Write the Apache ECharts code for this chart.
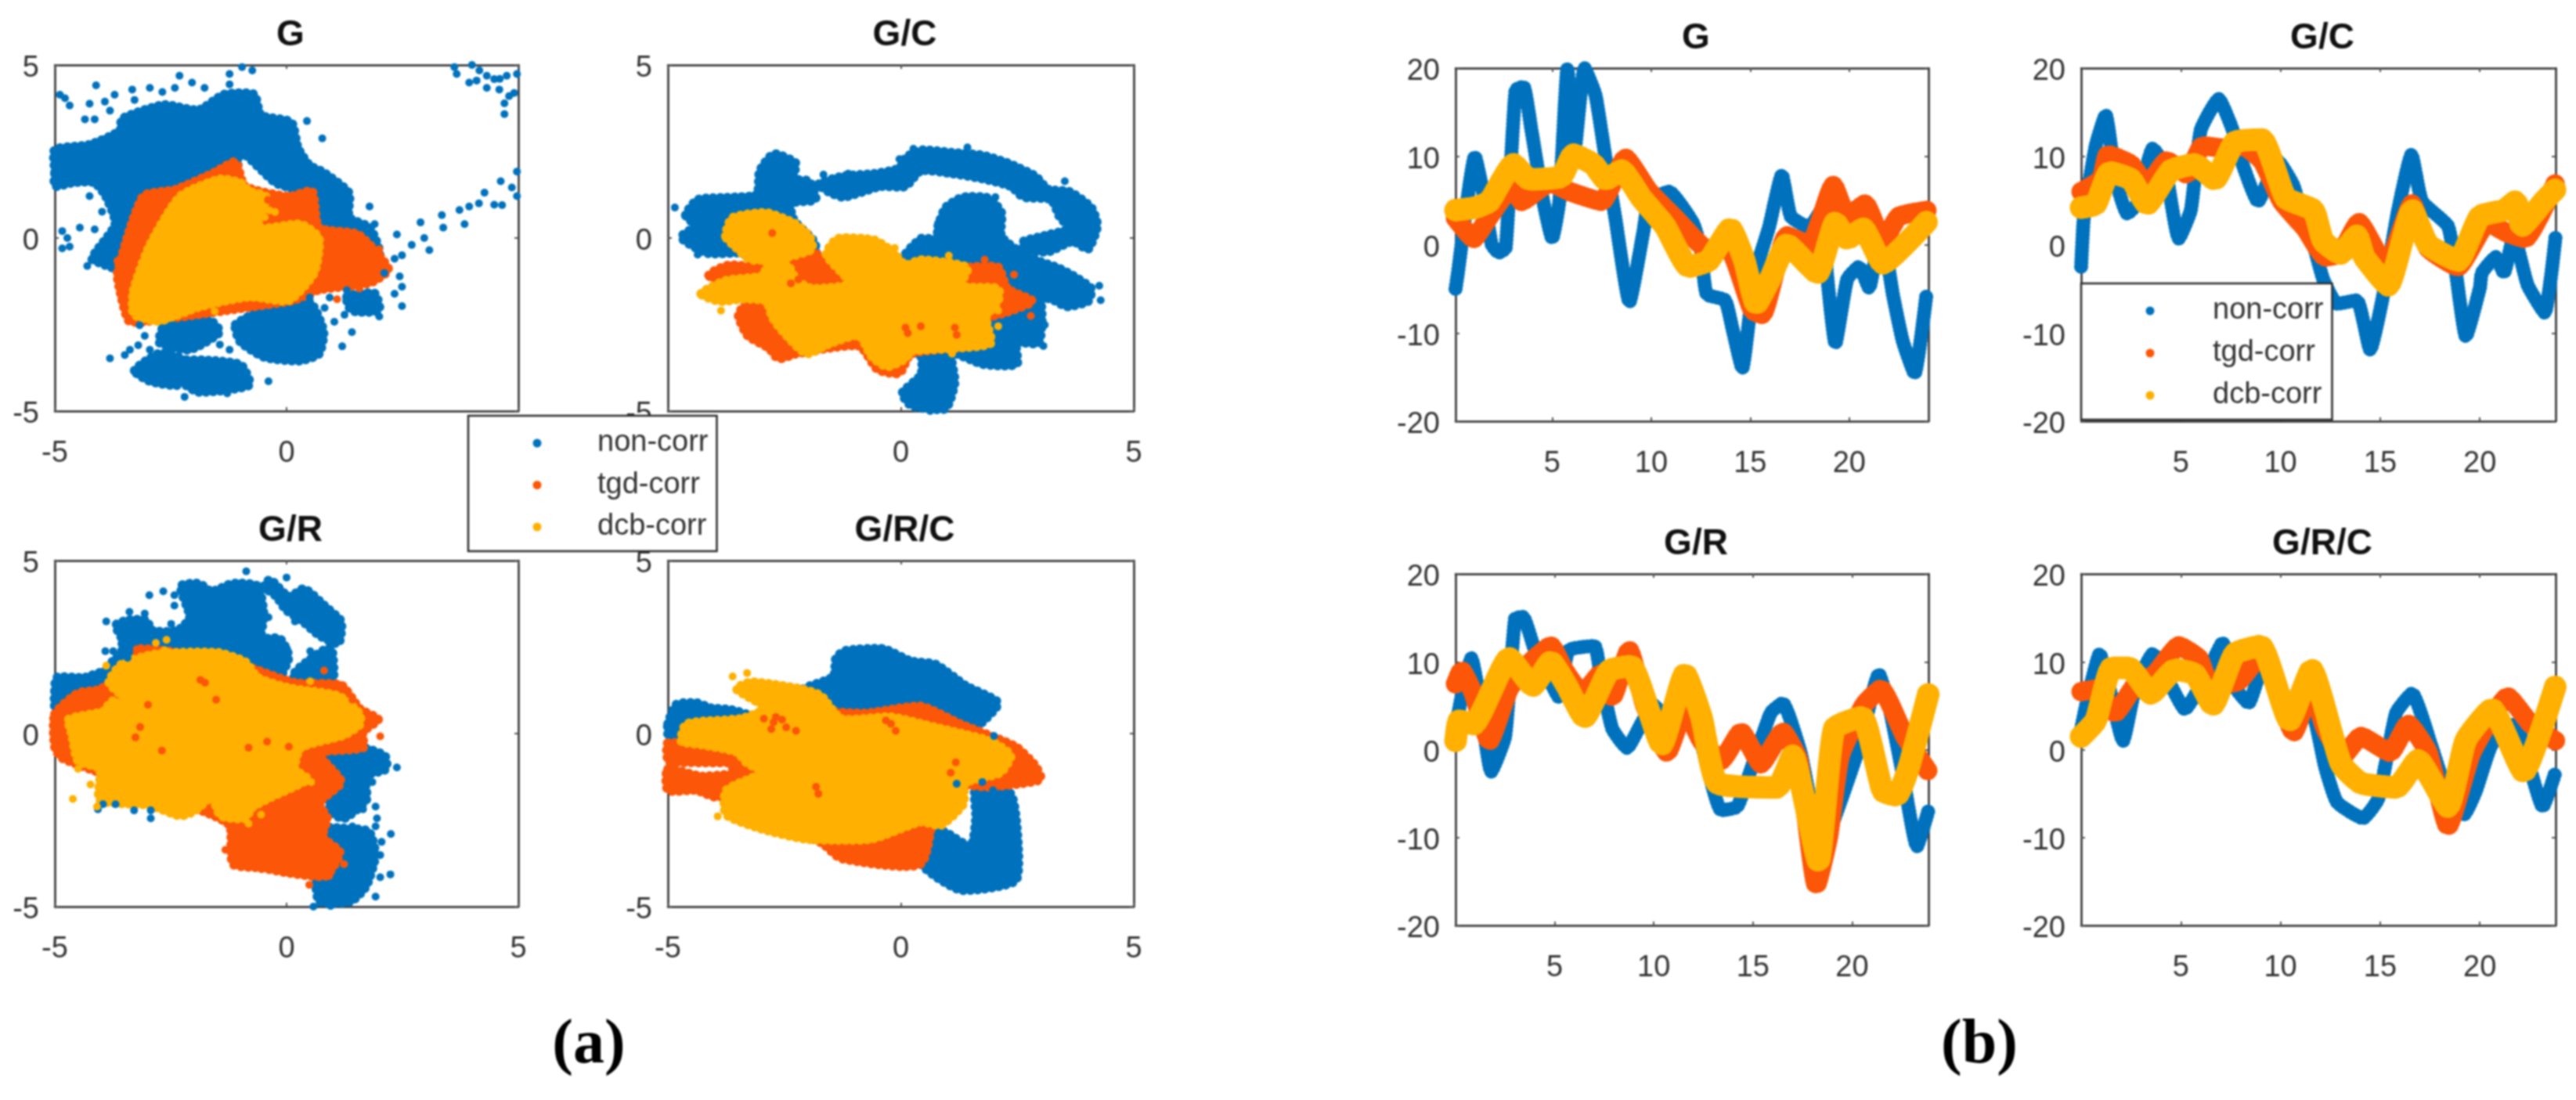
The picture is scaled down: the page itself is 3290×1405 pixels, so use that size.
<!DOCTYPE html>
<html><head><meta charset="utf-8">
<style>html,body{margin:0;padding:0;background:#fff}#c{width:3290px;height:1405px;filter:blur(0.8px)}</style>
<script src="https://cdn.jsdelivr.net/npm/echarts@6/dist/echarts.min.js"></script>
</head><body><div id="c"></div>
<script>
// ---------- names and ticks ----------
const panelNames = ['G','G/C','G/R','G/R/C'];
const seriesNames = ['non-corr','tgd-corr','dcb-corr'];
const seriesColors = ['#0072BD','#FC5608','#FFB000'];
const scatterTicks = [-5,0,5];
const hourTicks = [5,10,15,20];
const errorTicks = [-20,-10,0,10,20];

// ---------- (a) solid mass outlines [east, north] ----------
const gBlueMass = [
 [[-5,1.9],[-5,2.55],[-4.25,2.7],[-3.6,3.1],[-3.55,3.45],[-2.65,3.85],[-1.9,3.7],[-1.35,4.15],[-0.7,4.15],[-0.55,3.55],[0.1,3.35],[0.25,2.6],[0.5,2.1],[0.8,1.9],[1.35,1.3],[1.35,0.6],[1.8,0.3],[2.0,-0.5],[0.7,0.1],[0.6,0.8],[0.15,1.4],[-0.25,1.6],[-1,2.5],[-1.1,1.9],[-2.3,1.5],[-3.15,0.9],[-3.4,0],[-3.5,-1],[-3.85,-0.8],[-4.2,-0.6],[-3.7,0.4],[-3.9,1.2],[-4.15,1.6],[-4.6,1.6],[-5,1.5]],
 [[-1.1,-2.5],[-0.35,-2],[0.5,-1.85],[0.8,-2.7],[0.7,-3.35],[0.28,-3.55],[-0.47,-3.45],[-1,-3]],
 [[-2.3,-3.55],[-1,-3.65],[-0.8,-4.25],[-1.9,-4.45],[-2.3,-4.1]],
 [[-3.28,-3.83],[-2.74,-3.33],[-2.2,-3.53],[-2.31,-4.24],[-2.95,-4.14]],
 [[-2.63,-2.52],[-1.66,-2.37],[-1.44,-2.72],[-2.09,-3.23],[-2.74,-3.03]],
 [[1.3,-1.7],[1.9,-1.6],[2,-2.1],[1.4,-2.1]]
];
const gOrangeMass = [[[-3.65,-1],[-3.1,1.2],[-2.4,1.4],[-1.55,1.9],[-1.1,2.2],[-0.9,1.5],[0.05,1.2],[0.55,1.35],[0.7,0.3],[1.55,0.1],[2.2,-0.9],[1.8,-1.3],[0.7,-1.5],[0.15,-1.8],[-0.8,-2],[-2.95,-2.4],[-3.4,-2.4],[-3.6,-1.5]]];
const gYellowMass = [[[-3.3,-1.5],[-2.95,-0.2],[-2.3,1.2],[-1.45,1.7],[-1,1.6],[-0.8,1.35],[-0.45,1.2],[-0.6,0.3],[0.3,0.4],[0.7,0],[0.6,-1],[0.05,-1.8],[-0.8,-1.7],[-1.9,-2],[-2.75,-2.4],[-3.3,-2.2]]];
const gcBlueMass = [
 [[-4.62,0.66],[-4.36,1.11],[-3.56,1.18],[-3.09,1.26],[-3.03,1.94],[-2.73,2.43],[-2.26,2.17],[-2.29,1.71],[-1.96,1.64],[-1.83,1.11],[-2.36,1],[-2.29,0.51],[-1.86,-0.1],[-1.83,-0.55],[-2.96,-0.7],[-3.42,-0.44],[-4.16,-0.44],[-4.72,0.02],[-4.42,0.35]],
 [[0.8,0.35],[0.96,0.88],[1.33,1.18],[1.9,1.15],[2.16,0.73],[2.16,0.05],[2.56,-0.4],[3.03,-0.7],[3.36,-0.85],[3.69,-1.08],[4.09,-1.46],[4.02,-1.83],[3.56,-1.98],[3.22,-1.76],[3.03,-1.76],[3.03,-2.36],[2.96,-3.04],[2.49,-3.04],[2.49,-3.65],[1.76,-3.65],[1.1,-3.34],[1.16,-4.17],[0.96,-4.93],[0.23,-4.85],[0.03,-4.48],[0.43,-3.95],[0.43,-3.42],[0.1,-3.12],[0.03,-0.63],[0.43,-0.02],[0.76,-0.02]],
 [[-1.76,1.56],[-1.23,1.79],[-0.57,1.86],[-0.03,2.02],[0.1,2.32],[0.43,2.54],[1.1,2.47],[1.76,2.39],[2.29,2.17],[2.89,1.79],[3.16,1.41],[3.62,1.34],[4.09,0.88],[4.22,0.35],[4.02,-0.32],[3.69,-0.1],[3.16,-0.4],[2.63,-0.32],[2.63,-0.1],[3.03,0.05],[3.62,0.28],[3.42,0.58],[3.22,1.11],[2.63,1.18],[2.36,1.49],[1.76,1.71],[1.1,1.86],[0.43,1.94],[0.1,1.49],[-0.43,1.49],[-1.23,1.18],[-1.56,1.34]]
];
const gcOrangeMass = [[[-4.12,-1.08],[-3.69,-0.78],[-2.96,-0.85],[-2.16,-0.55],[-1.9,-0.4],[-1.63,-0.63],[-1.1,-1.23],[1.43,-0.85],[2.09,-0.85],[2.29,-1.46],[2.83,-1.83],[2.29,-2.14],[1.83,-2.36],[1.83,-3.04],[0.23,-3.34],[-0.03,-3.91],[-0.5,-3.8],[-0.9,-3.12],[-2.23,-3.34],[-2.63,-3.49],[-2.83,-3.19],[-3.29,-2.82],[-3.49,-2.21],[-3.29,-1.76]]];
const gcYellowMass = [
 [[-3.76,0.05],[-3.62,0.58],[-2.89,0.73],[-2.29,0.43],[-1.96,0.05],[-1.9,-0.32],[-2.43,-0.55],[-3.22,-0.63],[-3.56,-0.25]],
 [[-4.29,-1.61],[-3.76,-1.23],[-2.96,-1.08],[-2.83,-0.63],[-2.43,-0.78],[-2.23,-1.23],[-1.9,-1.46],[-1.1,-1.31],[-1.6,-0.48],[-1.36,-0.02],[-0.57,-0.06],[-0.17,-0.4],[0.1,-0.78],[0.43,-0.63],[1.43,-0.85],[1.3,-1.38],[2.09,-1.46],[2.09,-1.83],[1.83,-2.29],[1.93,-3.04],[1.1,-3.19],[0.23,-3.27],[0.1,-3.49],[-0.3,-3.72],[-0.63,-3.42],[-0.9,-2.82],[-1.5,-3.04],[-2.03,-3.34],[-2.56,-2.66],[-2.76,-2.29],[-2.89,-1.83],[-3.36,-1.76],[-3.89,-1.83]]
];
const grBlueMass = [
 [[-3.96,1.77],[-3.56,2.38],[-3.56,2.75],[-3.69,3.13],[-3.43,3.28],[-3.03,3.28],[-2.89,2.98],[-2.36,2.98],[-2.09,3.36],[-2.29,4.26],[-1.89,4.34],[-1.62,4.11],[-1.16,4.34],[-0.62,4.26],[-0.49,3.43],[-0.55,2.68],[-0.22,2.68],[-0.15,1.55],[-1.16,1.85],[-2.49,1.85],[-3.83,1.47]],
 [[-0.49,4.26],[-0.35,4.45],[0.05,3.96],[0.38,4.19],[0.85,3.66],[1.18,3.24],[1.12,2.6],[0.71,2.83],[0.31,3.28],[-0.02,3.58],[-0.22,3.96]],
 [[0.18,1.77],[0.51,2.15],[0.85,2.45],[0.98,2.45],[0.98,1.47],[0.18,1.32]],
 [[-5,1.24],[-4.96,1.62],[-4.36,1.62],[-3.96,1.77],[-3.76,1.32],[-4.5,1.17],[-4.76,1.09],[-5,0.79]],
 [[0.65,-0.41],[1.65,-0.41],[2.12,-0.64],[2.15,-1.02],[1.72,-1.24],[1.72,-1.92],[1.25,-2.45],[0.98,-2.3],[0.85,-1.55]],
 [[0.78,-2.75],[1.38,-2.75],[1.78,-2.83],[1.92,-3.51],[1.72,-4.41],[1.38,-4.86],[0.71,-4.86],[0.65,-4.26],[1.05,-3.66]],
 [[-0.55,2.68],[-0.15,2.75],[0.05,2.22],[-0.19,1.55],[-0.55,1.7]]
];
const grOrangeMass = [[[-5,0.57],[-4.5,1.17],[-4.03,1.28],[-3.29,2],[-3.16,2.45],[-1.16,2.07],[0.18,1.47],[1.18,1.4],[1.58,0.72],[1.98,0.41],[1.65,0.04],[1.65,-0.41],[0.71,-0.57],[1.18,-1.4],[0.71,-2],[0.88,-2.45],[0.78,-2.98],[1.15,-3.43],[0.85,-4.11],[0.05,-4.03],[-0.55,-3.88],[-1.16,-3.77],[-1.22,-2.68],[-1.56,-2.38],[-3.16,-1.55],[-4.83,-0.72],[-5,-0.41]]];
const grYellowMass = [[[-4.7,0.41],[-3.96,0.64],[-3.76,0.94],[-3.29,0.79],[-3.83,1.47],[-3.56,2],[-2.83,2.3],[-1.49,2.34],[-0.89,2.07],[-0.62,1.62],[0.05,1.32],[1.12,1.09],[1.58,0.57],[1.58,0.26],[1.25,-0.04],[0.31,-0.41],[0.18,-1.02],[0.45,-1.32],[-0.35,-1.85],[-0.75,-2.15],[-0.89,-2.45],[-1.42,-2.38],[-1.62,-1.85],[-1.96,-2.22],[-2.29,-2.38],[-2.96,-2.07],[-4.03,-1.92],[-4.03,-1.02],[-4.5,-0.79],[-4.63,-0.04]]];
const grcBlueMass = [
 [[-2.09,1.29],[-1.45,1.65],[-1.39,2.2],[-1.18,2.4],[-0.37,2.45],[0.21,2.1],[0.75,2],[1.39,1.39],[2.09,0.89],[1.71,0.28],[1.28,0.03],[-0.21,-0.02],[-1.28,0.28],[-1.82,1.09]],
 [[-5,0.28],[-4.82,0.84],[-4.39,0.89],[-4.07,0.74],[-3.64,0.69],[-3.21,0.48],[-3.64,-0.02],[-4.5,0.18],[-4.93,-0.22],[-5,-0.02]],
 [[1.61,-1.54],[2.36,-1.74],[2.52,-3.25],[2.46,-4.26],[1.28,-4.52],[0.43,-3.76],[0.43,-2.65],[0.96,-2.85],[1.5,-3.25],[1.61,-2.44]]
];
const grcOrangeMass = [
 [[-5,-0.27],[-4.28,-0.37],[-3.43,-0.63],[-3.53,-0.83],[-4.93,-0.83],[-5,-0.83]],
 [[-5,-1.03],[-4.28,-1.23],[-3,-1.13],[-3.43,-1.64],[-3.96,-1.84],[-4.39,-1.64],[-5,-1.64]],
 [[-3.43,-0.32],[-3,0.64],[-0.75,0.59],[0.43,0.79],[1.28,0.28],[2.46,-0.37],[2.89,-0.93],[3,-1.33],[1.93,-1.54],[0.86,-1.54],[0.43,-3.76],[-1.28,-3.61],[-1.71,-3.15],[-3.43,-2.14],[-3.64,-1.23]]
];
const grcYellowMass = [[[-4.71,-0.22],[-4.6,0.28],[-3.43,0.43],[-3.1,0.59],[-2.89,0.74],[-3.53,1.29],[-3.21,1.49],[-2.14,1.29],[-1.71,1.09],[-1.28,0.43],[-0.21,0.48],[0.75,0.18],[1.93,-0.22],[2.36,-0.63],[2.14,-1.13],[1.39,-1.43],[1.34,-2.04],[0.86,-2.65],[0.43,-2.55],[-0.64,-3.05],[-2.03,-3.05],[-3,-2.75],[-3.75,-2.34],[-3.75,-1.64],[-3,-1.13],[-3.32,-0.83],[-3.53,-0.53],[-4.28,-0.32]]];

// ---------- (a) individually visible dots ----------
const gBlueDots = [[3.62,4.94],[3.67,4.74],[4,5],[3.94,4.49],[4.16,4.84],[4.32,4.69],[4.48,4.59],[4.97,4.74],[4.59,4.29],[4.91,4.19],[4.7,3.89],[4.7,3.58],[4.32,4.34],[4.75,4.69],[4.1,4.55],[4.6,4.6],[4.8,4.1],
 [4.97,1.92],[4.62,1.64],[4.86,1.46],[4.97,1.21],[4.27,1.31],[4.48,0.96],[3.94,0.91],[3.73,0.81],[3.35,0.66],[3.84,0.4],[3.38,0.3],[2.89,0.45],[2.97,0],[2.7,-0.2],[3.08,-0.35],[2.38,0.1],[2.49,-0.5],[2.33,-0.6],[4.15,1.0],[4.65,0.95],
 [-4.78,4.04],[-4.68,3.83],[-4.11,4.41],[-4.25,3.88],[-3.92,3.94],[-3.71,4.14],[-3.81,3.68],[-4.35,3.43],[-4.14,3.43],[-3.33,4.29],[-2.95,4.34],[-2.68,4.22],[-2.41,4.34],[-2.31,4.69],[-2.04,4.49],[-1.77,4.34],[-1.23,4.44],[-1.23,4.74],[-0.96,4.94],[-0.74,4.84],[0.44,3.38],[0.77,2.88],[-3.28,3.99],[-4.89,4.14],
 [-4.84,0.2],[-4.84,-0.3],[-4.68,-0.25],[-4.46,0.3],[-4.14,0.25],[-4.3,-0.81],[-3.92,-0.81],[-4.73,0],[-3.98,0.76],[-4.25,1.21],[-4.03,-0.35],
 [0.93,-1.72],[1.3,-1.51],[1.47,-1.92],[1.84,-1.72],[2,-2.27],[2.44,-1.11],[2.49,-1.41],[2.33,-1.61],[2.49,-1.97],[1.68,-2.12],[1.41,-2.72],[1.2,-3.13],[0.82,-2.02],[1.25,-2.22],[1.03,-2.42],[2.11,-1.01],[0.5,-1.72],[1.84,-1.97],[1.73,0.3],[1.9,0.4],[1.79,0.91],
 [-3.81,-3.48],[-3.38,-3.23],[-3.49,-3.38],[-3.06,-2.83],[-2.63,-2.83],[-2.95,-3.23],[-2.52,-3.23],[-2.2,-2.72],[-1.55,-2.83],[-1.44,-3.08],[-1.23,-3.23],[-2.95,-3.63],[-3.22,-3.94],[-2.95,-4.14],[-2.74,-3.83],[-2.2,-4.59],[-1.28,-4.49],[-0.39,-4.14],[-2.47,-2.52],[-1.88,-2.47],[-3.17,-2.52],[-2.74,-3.4],[-3.2,-3.1]];
const gOrangeDots = [[-1.12,2.17],[1.09,-1.77],[1.57,-1.46],[2,-0.33],[-3.65,-0.66],[-3.1,1.15],[-0.4,1.1]];
const gYellowDots = [[-0.37,0.8],[-0.47,0.6],[-0.25,0.75],[-1.55,-2.12],[-2.6,-2.3]];
const gcBlueDots = [[1.43,2.62],[0.27,2.58],[-0.03,2.28],[-1.13,1.86],[-1.66,1.83],[3.52,1.64],[2.03,1.18],[-4.85,0.88],[-4.36,-0.48],[4.29,-1.8],[4.26,-1.38],[3.06,-3.12],[3.09,-2.51],[0.63,-5],[0.8,0.43],[0.43,-0.06]];
const gcOrangeDots = [[-4.06,-1.08],[2.79,-2.25],[2.43,-1.06],[1.8,-0.63]];
const gcYellowDots = [[-3.86,-2.1],[-0.13,-0.29],[1.03,-0.51],[1.1,-3.34],[2.09,-2.55],[2.09,-2.1]];
const gcOrangeSpecks = [[-2.76,0.14],[-2.36,-1.31],[0.1,-2.59],[1.16,-2.59],[0.43,-2.55],[-2.2,-1.2],[0.15,-2.75],[1.2,-2.8]];
const grBlueDots = [[-0.87,4.69],[0,4.51],[-2.96,4],[-2.66,4.11],[-2.42,4],[-2.42,3.7],[-3.39,3.52],[-3.06,3.47],[-3.89,3.24],[-2.49,3.17],[-3.91,2.38],[-3.74,2.38],[-3.43,2.19],[0.18,3.24],[-0.39,3.36],[0.51,2.38],[0.01,2.45],[0.01,2.15],[2.38,-0.98],[1.88,-0.49],[2.08,-0.72],[1.85,-1.4],[1.65,-2.19],[1.92,-2.11],[1.95,-2.45],[1.92,-2.68],[2.25,-2.9],[2.05,-3.13],[2.02,-3.51],[2.24,-4.07],[2.02,-4.15],[1.92,-4.71],[0.58,-5],[0.95,-4.98],[1.42,-2.68],[-2.93,-2.45],[-2.93,-2.22],[-3.96,-2.04],[-3.69,-2.04],[-4.07,-2.19],[-3.29,-2.22]];
const grOrangeDots = [[-3.23,2.44],[0.81,1.82],[1.18,1.4],[1.42,0.98],[2.02,-0.08],[1.8,0.4],[-1.32,-3.36],[-0.54,-3.92],[-0.32,-3.92],[-0.02,-4],[0.49,-4.37],[0.92,-4.11],[1.24,-3.77]];
const grYellowDots = [[-2.82,2.62],[-2.59,2.71],[-2.63,2.41],[-3.89,1.96],[-4.61,-1.89],[-4.23,-1.47],[-4.5,-1.02],[-4.09,-2.11],[0.51,1.51],[-0.55,-2.34],[-0.82,-2.6],[0.53,-1.4]];
const grOrangeSpecks = [[-1.86,1.55],[-1.76,1.47],[-1.52,0.98],[-2.99,0.83],[-0.82,-0.41],[-0.42,-0.23],[0.05,-0.38],[-2.69,-0.49],[-3.26,-0.11],[-3.16,0.19]];
const grcBlueDots = [[2,-0.07],[2.46,-4.18],[1.98,-1.64],[1.2,-1.45],[1.75,-1.4]];
const grcOrangeDots = [[2.94,-1.28],[2.52,-0.42],[-3.96,-1.74],[-5,-1.59],[-5,-1.08]];
const grcYellowDots = [[-3.61,1.65],[-3.3,1.75],[-3.93,-2.39]];
const grcOrangeSpecks = [[-2.94,0.43],[-2.73,0.33],[-2.46,0.18],[-2.68,0.48],[-2.25,0.08],[-2.78,0.13],[-2.55,0.4],[-0.21,0.28],[-0.11,0.08],[-0.32,0.38],[-1.82,-1.54],[-1.77,-1.74],[1.07,-1.13],[1.18,-0.83]];

// ---------- (b) error against hour [hour, metres] ----------
const gBlueTrace = [[.12,-5],[.22,-3.5],[1.1,10],[1.5,6],[1.95,0],[2.3,-.9],[2.65,-.4],[3.15,17.5],[3.55,17.9],[3.95,13],[4.55,4.9],[5,.7],[5.36,4.9],[5.77,20],[6.1,10],[6.63,20],[7.18,17],[7.68,10],[8.19,3],[8.9,-6.5],[9.6,1.4],[9.9,5],[10.9,6],[12.1,2.5],[12.5,-.4],[12.8,-5.6],[13.73,-6.3],[14.1,-9.5],[14.6,-14],[15,-7.4],[15.3,-2.8],[15.95,2],[16.6,7.9],[17.05,3.2],[17.96,2],[18.67,4.2],[18.87,-3.2],[19.3,-11.2],[19.9,-3.9],[20.5,-2.5],[21,-4.9],[21.6,2],[22.2,-5.6],[22.7,-10.9],[23.3,-14.6],[23.9,-5.6]];
const gOrangeTrace = [[.12,3],[1.03,.7],[1.83,3.2],[3.04,6.7],[3.45,4.9],[4.9,7],[5.9,6],[7.5,4.9],[8.7,9.8],[9.9,6],[11.3,2.8],[12.7,-.4],[14,-.7],[15.1,-7.4],[15.6,-7.9],[16.85,1],[18,0],[19.2,6.7],[19.9,3.2],[20.8,4.6],[21.7,.4],[22.5,3.2],[24,3.9]];
const gYellowTrace = [[.12,3.9],[1.13,4.2],[1.83,4.9],[3.04,9.1],[3.85,7.4],[5.46,7.7],[6.07,10.2],[7.08,9.1],[7.7,7.4],[8.5,8.4],[9.5,5.3],[10.7,2.1],[11.9,-2.5],[12.9,-1.8],[14,1.8],[14.7,-1.8],[15.3,-6.7],[16,-3.9],[16.85,0],[18.4,-3.2],[19.3,2.5],[19.9,.7],[20.7,1.8],[21.7,-2.1],[24,2.8]];
const gcBlueTrace = [[0,-2.5],[.14,3.2],[.73,11.2],[1.23,14.7],[1.73,7.4],[2.32,3.5],[2.8,4.6],[3.6,10.9],[4.2,8.8],[4.9,.7],[5.5,3.9],[6,13],[6.9,16.5],[7.6,13],[8.1,9.1],[8.87,4.9],[9.86,9.5],[10.65,6.7],[11.25,1.8],[11.65,0],[12.14,-3.9],[12.84,-6.7],[13.83,-6.3],[14.5,-11.9],[15.1,-6.3],[15.9,3.9],[16.57,10.2],[17.1,4.9],[18.4,2.1],[18.8,-3.2],[19.3,-10.4],[20,-4.9],[20.1,-3.2],[20.8,-1.4],[21.2,-3.2],[21.7,1],[22.4,-4.6],[23.25,-7.7],[23.8,1]];
const gcOrangeTrace = [[0,6],[1,7.4],[1.35,10.2],[2.5,9.1],[3.3,6.7],[4.3,9.5],[5.3,8],[6.1,11.2],[7.3,10.9],[8.1,11.2],[9.07,9.5],[10.06,4.9],[11.25,1.8],[12.24,-1.4],[13,-1],[13.93,2.5],[15.3,-2.5],[16.6,4.6],[17.4,-.4],[18.9,-2.5],[20.4,2.5],[21.3,1.4],[22.26,.7],[23.8,7]];
const gcYellowTrace = [[0,4.2],[.73,4.6],[1.43,8.2],[2.5,7.4],[3.3,4.6],[4.5,8.4],[5.7,9.1],[6.7,7.4],[7.7,11.6],[9.07,11.9],[10.26,5.3],[11.65,3.9],[12.14,.4],[13,-1],[13.83,1],[14.2,-1.4],[15.4,-4.6],[16.6,3.9],[17.4,0],[18.9,-1.8],[20,3.2],[21.2,3.9],[21.8,4.9],[22.1,2.1],[23.2,4.9],[23.8,6.3]];
const grBlueTrace = [[0,2.4],[.3,6],[.8,10.4],[1.2,6],[1.8,-2.5],[2.5,1.5],[3,14.9],[3.4,15.1],[4,11.3],[4.6,8.6],[5.2,6],[5.7,11.3],[7,11.8],[7.3,8.6],[7.9,2.4],[8.65,.2],[9.35,2.9],[9.96,5.1],[10.77,3.3],[11.4,6],[12.4,.6],[13.4,-6.9],[14.2,-6.5],[14.8,-2.9],[15.9,4.2],[16.5,5.3],[17.4,-.3],[18.3,-9.2],[18.8,-9.2],[19.4,-6],[20.4,.6],[21.35,8.6],[21.85,5.1],[22.56,-2.9],[23.27,-11],[23.85,-6.9]];
const grOrangeTrace = [[0,7.5],[.3,9],[.9,6.4],[1.7,1],[2.7,6.9],[3.8,10],[4.8,11.8],[5.5,9],[6.4,6.4],[7.3,8.6],[7.9,6],[8.75,11.3],[9.55,5],[10.67,-.3],[11.57,4.6],[12.4,1],[13.4,-1.2],[14.4,2],[15.4,-1.6],[16.5,2],[17.3,-1.2],[18.2,-15.4],[18.8,-10],[19.4,-.7],[20.6,5.1],[21.45,6.9],[22.66,1.5],[23.85,-2.5]];
const grYellowTrace = [[0,1],[.18,3.3],[.9,2.9],[2.7,10.4],[3.9,7.3],[4.8,10],[5.6,7.3],[6.5,3.7],[7.75,9],[8.85,9.5],[10.4,.6],[11.57,8.6],[12.4,3.7],[13.2,-3.8],[16.2,-4.3],[17,-.7],[18.3,-12.7],[19.1,2.4],[20.5,3.7],[21.55,-4.7],[22.25,-5.2],[22.86,-2],[23.85,6.4]];
const grcBlueTrace = [[0,2.4],[.34,6],[.93,10.9],[1.43,6.9],[2.1,1],[2.7,6.9],[3.6,10.9],[4.5,7.3],[5.2,4.6],[6.3,8.6],[7.1,12.2],[7.5,7.8],[8.4,5.3],[9.07,9.1],[10.36,5.1],[11.55,4.6],[12.24,-2],[12.84,-6],[14.13,-7.8],[14.9,-5.6],[15.8,4.2],[16.6,6.4],[17.6,.2],[18.4,-5.2],[19.2,-7.4],[19.8,-4.7],[20.6,.6],[21.77,2.9],[22.56,-2.5],[23.15,-6.5],[23.8,-2.5]];
const grcOrangeTrace = [[0,6.6],[.73,6.9],[1.7,4.2],[2.7,7.3],[3.7,8.6],[4.9,11.8],[5.9,10.4],[6.5,7.3],[7.9,7.8],[9.07,10.9],[10.66,2],[11.55,6.9],[12.24,2.4],[13.13,-.7],[14.03,1.5],[15.5,-.3],[16.4,2.9],[17.4,-.3],[18.4,-8.7],[19.6,-.3],[21.4,6],[22.56,2.9],[23.8,1]];
const grcYellowTrace = [[0,1.5],[.73,3.3],[1.53,9.3],[2.4,9.3],[3.5,6.4],[4.7,9.1],[5.7,8.6],[6.6,5.1],[7.7,10.9],[9,11.8],[10.45,3.3],[11.55,9.1],[13.03,-1.6],[14.03,-3.8],[15.8,-4.3],[16.9,-1.2],[18.4,-6.5],[19.3,1.1],[20.6,4.6],[22.2,-2.5],[23.8,7.3]];

// ---------- layout ----------
const FONT = '"Liberation Sans", Arial, sans-serif';
const INK = '#2b2b2b';
const aBoxes = [[70,83,592,442],[853,83,595,442],[70,716,592,442],[853,716,595,442]];
const bBoxes = [[1859,87,604,451],[2658,87,606,451],[1859,733,604,449],[2658,733,606,449]];
const bXRange = [[0.12,24],[0,23.8],[0,23.85],[0,23.8]];
const aMass = [[gBlueMass,gOrangeMass,gYellowMass],[gcBlueMass,gcOrangeMass,gcYellowMass],[grBlueMass,grOrangeMass,grYellowMass],[grcBlueMass,grcOrangeMass,grcYellowMass]];
const aDots = [[gBlueDots,gOrangeDots,gYellowDots],[gcBlueDots,gcOrangeDots,gcYellowDots],[grBlueDots,grOrangeDots,grYellowDots],[grcBlueDots,grcOrangeDots,grcYellowDots]];
const aSpecks = [[],gcOrangeSpecks,grOrangeSpecks,grcOrangeSpecks];
const bTraces = [[gBlueTrace,gOrangeTrace,gYellowTrace],[gcBlueTrace,gcOrangeTrace,gcYellowTrace],[grBlueTrace,grOrangeTrace,grYellowTrace],[grcBlueTrace,grcOrangeTrace,grcYellowTrace]];
const bWidths = [18,25,29];

const grid=[],xAxis=[],yAxis=[],title=[],series=[];
const lbl = {color:'#333',fontFamily:FONT,fontSize:38};
function addFrame(box,xMin,xMax,yMin,yMax,xTicks,yTicks,name){
  const g=grid.length;
  grid.push({left:box[0],top:box[1],width:box[2],height:box[3],containLabel:false});
  const line={show:true,onZero:false,lineStyle:{color:INK,width:2.5}};
  const tick=(vals)=>({show:true,inside:true,length:5,customValues:vals,lineStyle:{color:'#555',width:2}});
  xAxis.push({gridIndex:g,type:'value',position:'bottom',min:xMin,max:xMax,axisLine:line,axisTick:tick(xTicks),splitLine:{show:false},
    axisLabel:Object.assign({show:true,margin:36,customValues:xTicks,formatter:v=>String(v)},lbl)});
  xAxis.push({gridIndex:g,type:'value',position:'top',min:xMin,max:xMax,axisLine:line,axisTick:tick(xTicks),splitLine:{show:false},axisLabel:{show:false}});
  yAxis.push({gridIndex:g,type:'value',position:'left',min:yMin,max:yMax,axisLine:line,axisTick:tick(yTicks),splitLine:{show:false},
    axisLabel:Object.assign({show:true,margin:20,customValues:yTicks,formatter:v=>String(v),verticalAlign:'top',lineHeight:10},lbl)});
  yAxis.push({gridIndex:g,type:'value',position:'right',min:yMin,max:yMax,axisLine:line,axisTick:tick(yTicks),splitLine:{show:false},axisLabel:{show:false}});
  title.push({text:name,left:box[0]+box[2]/2,top:box[1]-66,textAlign:'center',textStyle:{fontFamily:FONT,fontWeight:'bold',fontSize:46,color:'#111'}});
  return g*2;
}
function massSeries(idx,name,color,outline){
  return {type:'custom',name:name,coordinateSystem:'cartesian2d',xAxisIndex:idx,yAxisIndex:idx,data:outline,silent:true,clip:false,
    encode:{x:0,y:1},itemStyle:{color:color},
    renderItem:(p,api)=>{
      if(p.dataIndex!==0) return null;
      const pts=outline.map(q=>api.coord(q));
      return {type:'group',children:[
        {type:'polygon',shape:{points:pts,smooth:0.2},style:{fill:color}},
        {type:'polygon',shape:{points:pts,smooth:0.2},style:{fill:'none',stroke:color,lineWidth:12,lineCap:'round',lineDash:[0.1,9]}}
      ]};
    }};
}
function dotSeries(idx,name,color,pts){
  return {type:'scatter',name:name,xAxisIndex:idx,yAxisIndex:idx,data:pts,symbol:'circle',symbolSize:10,clip:false,silent:true,itemStyle:{color:color,opacity:1}};
}
aBoxes.forEach((box,i)=>{
  const idx=addFrame(box,-5,5,-5,5,scatterTicks,scatterTicks,panelNames[i]);
  seriesNames.forEach((nm,s)=>{
    series.push(dotSeries(idx,nm,seriesColors[s],aDots[i][s]));
    aMass[i][s].forEach(o=>series.push(massSeries(idx,nm,seriesColors[s],o)));
  });
  if(aSpecks[i].length) series.push(dotSeries(idx,seriesNames[1],seriesColors[1],aSpecks[i]));
});
bBoxes.forEach((box,i)=>{
  const idx=addFrame(box,bXRange[i][0],bXRange[i][1],-20,20,hourTicks,errorTicks,panelNames[i]);
  seriesNames.forEach((nm,s)=>{
    series.push({type:'line',name:nm,xAxisIndex:idx,yAxisIndex:idx,data:bTraces[i][s],showSymbol:false,clip:false,silent:true,smooth:0.15,
      lineStyle:{color:seriesColors[s],width:bWidths[s],cap:'round',join:'round',type:[0.1,5]},itemStyle:{color:seriesColors[s]}});
  });
});
function captionTitle(letter,cx,top){
  return {text:'{n|(}{b|'+letter+'}{n|)}',left:cx,top:top,textAlign:'center',
    textStyle:{rich:{n:{fontFamily:'"Liberation Serif",serif',fontSize:80,color:'#000'},b:{fontFamily:'"Liberation Serif",serif',fontSize:80,fontWeight:'bold',color:'#000'}}}};
}
title.push(captionTitle('a',747,1291));
title.push(captionTitle('b',2523,1291));
function legendAt(left,top,padLeft,textGap,gap){
  return {show:true,left:left,top:top,orient:'vertical',align:'left',data:seriesNames,selectedMode:false,icon:'circle',
    itemWidth:11,itemHeight:11,itemGap:gap,padding:[16,11,12,padLeft],backgroundColor:'#fff',borderColor:INK,borderWidth:2.5,z:20,
    textStyle:{fontFamily:FONT,fontSize:38,color:'#333',padding:[0,0,0,textGap]}};
}
const chart=echarts.init(document.getElementById('c'),null,{renderer:'canvas',width:3290,height:1405});
chart.setOption({animation:false,backgroundColor:'#fff',grid,xAxis,yAxis,title,series,
  legend:[legendAt(598,531,82.5,66.5,15.5),legendAt(2658,362,82.5,69.5,16)]});
</script></body></html>
